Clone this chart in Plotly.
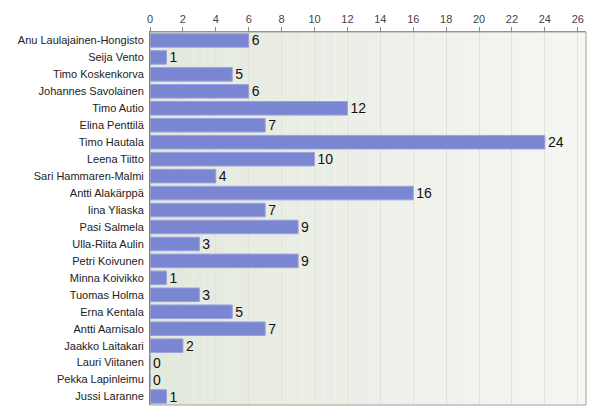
import plotly.graph_objects as go

names = ["Anu Laulajainen-Hongisto", "Seija Vento", "Timo Koskenkorva", "Johannes Savolainen",
         "Timo Autio", "Elina Penttilä", "Timo Hautala", "Leena Tiitto", "Sari Hammaren-Malmi",
         "Antti Alakärppä", "Iina Yliaska", "Pasi Salmela", "Ulla-Riita Aulin", "Petri Koivunen",
         "Minna Koivikko", "Tuomas Holma", "Erna Kentala", "Antti Aarnisalo", "Jaakko Laitakari",
         "Lauri Viitanen", "Pekka Lapinleimu", "Jussi Laranne"]
values = [6, 1, 5, 6, 12, 7, 24, 10, 4, 16, 7, 9, 3, 9, 1, 3, 5, 7, 2, 0, 0, 1]
tick_vals = list(range(0, 27, 2))

fig = go.Figure()

# gradient background via stacked strips
n = 40
shapes = []
for i in range(n):
    t = i / (n - 1)
    r = int(228 + (246 - 228) * t)
    g = int(233 + (247 - 233) * t)
    b = int(222 + (242 - 222) * t)
    shapes.append(dict(type="rect", xref="x domain", yref="y domain",
                       x0=i / n, x1=(i + 1) / n, y0=0, y1=1,
                       fillcolor=f"rgb({r},{g},{b})", line=dict(width=0), layer="below"))
shapes.append(dict(type="rect", xref="x domain", yref="y domain", x0=0, x1=1, y0=0, y1=1,
                   line=dict(color="#a0a0a0", width=1), fillcolor="rgba(0,0,0,0)"))

fig.add_trace(go.Bar(
    y=names, x=values, orientation="h",
    marker=dict(color="#7a86d2", line=dict(color="#9aa3de", width=1)),
    width=0.8,
    text=[str(v) for v in values], textposition="outside",
    constraintext="none",
    textfont=dict(family="Liberation Sans, Arial, sans-serif", size=14, color="#111"),
    cliponaxis=False,
))

fig.update_layout(
    width=592, height=412,
    margin=dict(l=142, r=14, t=24, b=15),
    paper_bgcolor="white", plot_bgcolor="rgba(0,0,0,0)",
    showlegend=False,
    shapes=shapes,
    font=dict(family="Liberation Sans, Arial, sans-serif", size=11, color="#333"),
    xaxis=dict(side="top", range=[0, 26.5], tickvals=tick_vals, ticks="outside",
               ticklen=4, tickcolor="#888", showgrid=True, gridcolor="#e0e3dc",
               gridwidth=1, zeroline=False, showline=True, linecolor="#888",
               tickfont=dict(size=11, color="#444"), automargin=False),
    yaxis=dict(autorange="reversed", showline=True, linecolor="#666", ticks="",
               tickfont=dict(size=11, color="#222"), showgrid=False,
               ticklabelstandoff=3, automargin=False),
    bargap=0.2,
)

fig.write_html("out.html")
